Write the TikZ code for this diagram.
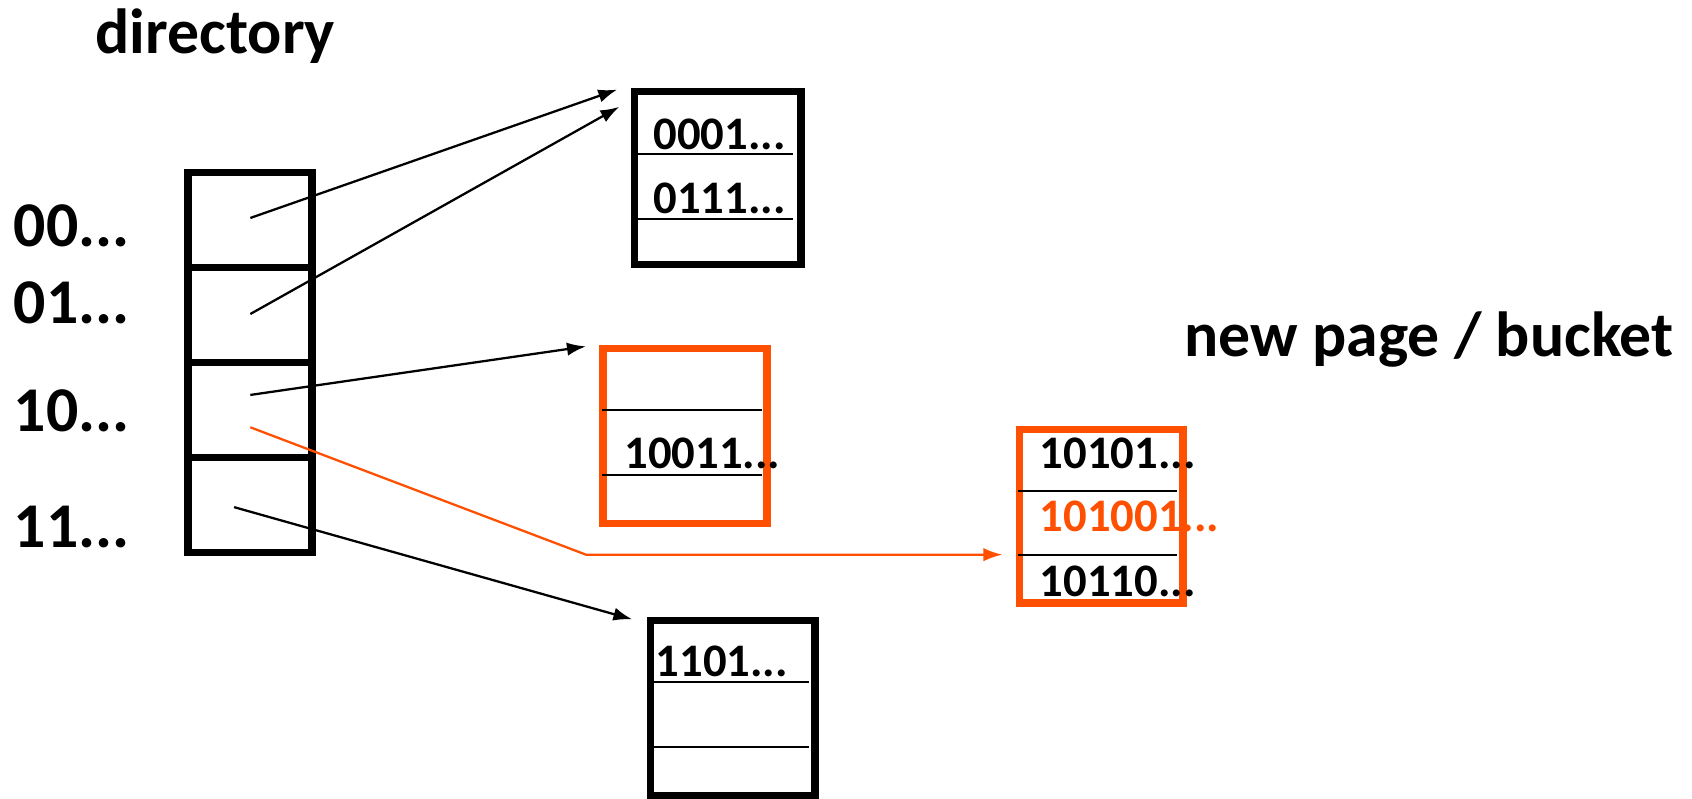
\documentclass[tikz,border=0pt]{standalone}
\usepackage{fontspec}
\setmainfont{Carlito}
\usetikzlibrary{arrows.meta}
\definecolor{hot}{RGB}{255,79,0}
\newcommand\lblfont{\fontsize{16.8}{19}\selectfont\bfseries}
\newcommand\recfont{\fontsize{12.3}{14}\selectfont\bfseries}
\tikzset{
  cell/.style={draw, line width=2pt, minimum width=1.15cm, minimum height=0.88cm, inner sep=0, outer sep=0, anchor=north west},
  bucket/.style={draw, line width=2pt, inner sep=0, outer sep=0},
  lbl/.style={font=\lblfont, inner sep=0, anchor=base west},
  rec/.style={font=\recfont, inner sep=0, anchor=base west},
  div/.style={line width=0.6pt},
  ptr/.style={line width=0.6pt, -{Latex[length=5pt,width=3.5pt]}},
}
\begin{document}
\begin{tikzpicture}[x=0.01cm,y=-0.01cm]
\useasboundingbox (0,0) rectangle (1568,740);
% titles
\node[lbl] (dirt) at (88,50) {directory};
\node[lbl] (newt) at (1097,330) {new page / bucket};
% directory
\node[cell] (c1) at (174,160) {};
\node[cell] (c2) at (174,248) {};
\node[cell] (c3) at (174,336) {};
\node[cell] (c4) at (174,424) {};
\node[lbl] (l1) at (12,228) {00...};
\node[lbl] (l2) at (12,300) {01...};
\node[lbl] (l3) at (12,400) {10...};
\node[lbl] (l4) at (12,507) {11...};
% buckets
\node[bucket, minimum width=1.54cm, minimum height=1.60cm] (b1) at (665,165) {};
\node[bucket, draw=hot, minimum width=1.52cm, minimum height=1.62cm] (b2) at (635,404) {};
\node[bucket, minimum width=1.52cm, minimum height=1.62cm] (b3) at (679,656) {};
\node[bucket, draw=hot, minimum width=1.51cm, minimum height=1.61cm] (b4) at (1020.5,478.5) {};
% dividers
\draw[div] (591,143) -- (735,143);
\draw[div] (591,203) -- (735,203);
\draw[div] (558,380) -- (706,380);
\draw[div] (558,440) -- (706,440);
\draw[div] (605,632) -- (750,632);
\draw[div] (605,692) -- (750,692);
\draw[div] (943,455) -- (1091,455);
\draw[div] (943,514) -- (1091,514);
% records
\node[rec] (r1) at (605,139) {0001...};
\node[rec] (r2) at (605,198) {0111...};
\node[rec] (r3) at (578,434) {10011...};
\node[rec] (r4) at (607,627) {1101...};
\node[rec] (r5) at (963,434) {10101...};
\node[rec, text=hot] (r6) at (963,493) {101001...};
\node[rec] (r7) at (963,553) {10110...};
% pointers
\coordinate (s1) at (232,202);
\coordinate (s2) at (232,291);
\coordinate (s3) at (232,366);
\coordinate (s3b) at (232,396);
\coordinate (s4) at (217,470);
\coordinate (e1) at (572,83);
\coordinate (e2) at (574,99);
\coordinate (e3) at (543,321);
\coordinate (bend) at (543,514);
\coordinate (e3b) at (929,514);
\coordinate (e4) at (586,574);
\draw[ptr] (s1) -- (e1);
\draw[ptr] (s2) -- (e2);
\draw[ptr] (s3) -- (e3);
\draw[ptr, color=hot] (s3b) -- (bend) -- (e3b);
\draw[ptr] (s4) -- (e4);
\end{tikzpicture}
\end{document}
